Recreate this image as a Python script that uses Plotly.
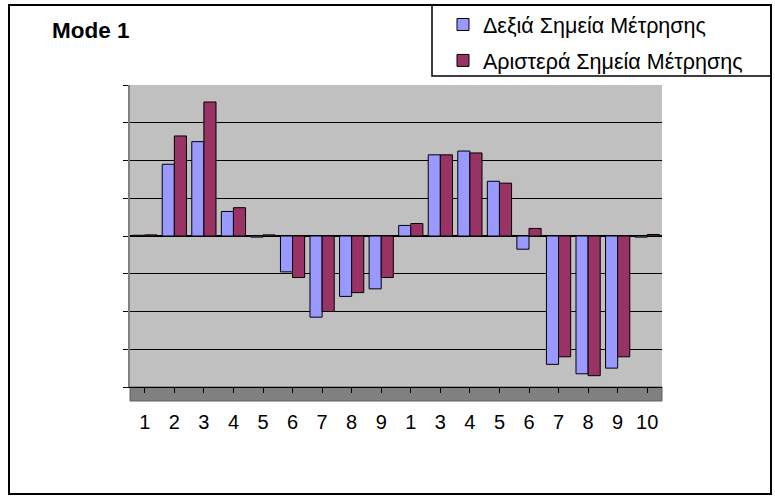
import plotly.graph_objects as go

# ---- data ----
tick_labels = ["1", "2", "3", "4", "5", "6", "7", "8", "9",
               "1", "3", "4", "5", "6", "7", "8", "9", "10"]
right_points = [0.02, 1.90, 2.50, 0.65, -0.03, -0.95, -2.15, -1.60, -1.40,
                0.28, 2.15, 2.25, 1.45, -0.35, -3.40, -3.65, -3.50, -0.03]
left_points = [0.03, 2.65, 3.55, 0.75, 0.03, -1.10, -2.00, -1.50, -1.10,
               0.33, 2.15, 2.20, 1.40, 0.20, -3.20, -3.70, -3.20, 0.04]
series_names = ["Δεξιά Σημεία Μέτρησης", "Αριστερά Σημεία Μέτρησης"]
title_text = "Mode 1"

W, H = 775, 497
ML, MR, MT, MB = 130, 113, 85, 110
PW, PH = W - ML - MR, H - MT - MB


def px(x):
    return (x - ML) / PW


def py(y):
    return (H - MB - y) / PH


positions = list(range(len(tick_labels)))

fig = go.Figure()
fig.add_trace(go.Bar(
    x=positions, y=right_points, name=series_names[0],
    marker=dict(color="#9999FF", line=dict(color="black", width=1)),
    legendgroup="a",
))
fig.add_trace(go.Bar(
    x=positions, y=left_points, name=series_names[1],
    marker=dict(color="#993366", line=dict(color="black", width=1)),
    legendgroup="b",
))

shapes = [
    # outer chart border
    dict(type="rect", xref="paper", yref="paper",
         x0=px(9), x1=px(771), y0=py(494), y1=py(5),
         line=dict(color="black", width=2), fillcolor="rgba(0,0,0,0)", layer="above"),
    # legend box
    dict(type="rect", xref="paper", yref="paper",
         x0=px(432), x1=px(771), y0=py(76), y1=py(5),
         line=dict(color="black", width=1.5), fillcolor="white", layer="below"),
    # floor
    dict(type="rect", xref="paper", yref="paper",
         x0=0, x1=1, y0=py(H - MB + 14), y1=0,
         line=dict(color="#606060", width=1), fillcolor="#808080", layer="below"),
]

fig.update_layout(
    width=W, height=H,
    margin=dict(l=ML, r=MR, t=MT, b=MB, autoexpand=False),
    paper_bgcolor="white",
    plot_bgcolor="#C0C0C0",
    barmode="group",
    bargap=0.18,
    bargroupgap=0.0,
    font=dict(family="Liberation Sans, Arial, sans-serif", color="black", size=21),
    title=dict(text="<b>" + title_text + "</b>", xref="container", yref="container",
               x=52 / W, y=1 - 30 / H, xanchor="left", yanchor="middle",
               font=dict(size=22.5, family="Liberation Sans, Arial, sans-serif")),
    legend=dict(xref="container", yref="container",
                x=443 / W, y=1 - 4 / H, xanchor="left", yanchor="top",
                bgcolor="rgba(0,0,0,0)", borderwidth=0,
                font=dict(size=21.5), traceorder="grouped", tracegroupgap=5,
                itemwidth=30),
    showlegend=True,
    shapes=shapes,
    xaxis=dict(
        tickmode="array", tickvals=positions, ticktext=tick_labels,
        range=[-0.5, len(positions) - 0.5],
        showgrid=False, zeroline=False,
        showline=True, linecolor="black", linewidth=1,
        ticks="outside", ticklen=5, tickcolor="black",
        tickfont=dict(size=20), ticklabelstandoff=12, tickangle=0,
    ),
    yaxis=dict(
        range=[-4, 4], dtick=1, showticklabels=False,
        showgrid=True, gridcolor="black", gridwidth=1,
        zeroline=True, zerolinecolor="black", zerolinewidth=1.5,
        showline=True, linecolor="#808080", linewidth=2,
        ticks="outside", ticklen=5, tickcolor="black",
    ),
)

fig.write_html("out.html")
